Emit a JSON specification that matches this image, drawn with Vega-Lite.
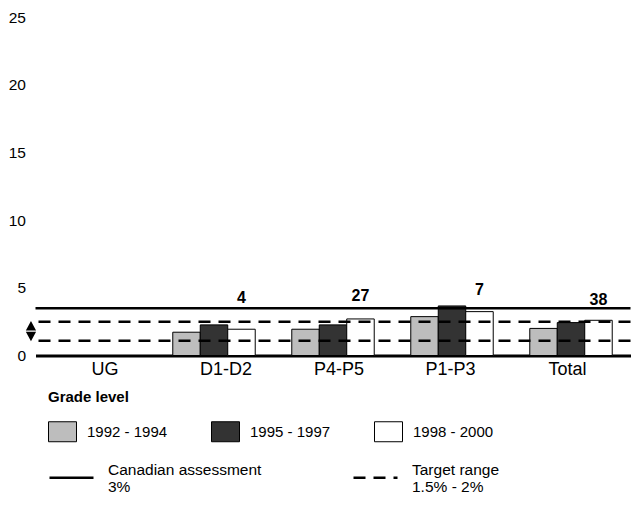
{
  "$schema": "https://vega.github.io/schema/vega-lite/v6.json",
  "width": 595,
  "height": 338.5,
  "autosize": "none",
  "padding": {"left": 35.5, "top": 17, "right": 13.5, "bottom": 149.5},
  "config": {"view": {"stroke": null}, "font": "Liberation Sans"},
  "datasets": {
    "bars": [
      {"grade": "D1-D2", "period": "1992 - 1994", "value": 1.72},
      {"grade": "D1-D2", "period": "1995 - 1997", "value": 2.26},
      {"grade": "D1-D2", "period": "1998 - 2000", "value": 1.94},
      {"grade": "P4-P5", "period": "1992 - 1994", "value": 1.94},
      {"grade": "P4-P5", "period": "1995 - 1997", "value": 2.26},
      {"grade": "P4-P5", "period": "1998 - 2000", "value": 2.7},
      {"grade": "P1-P3", "period": "1992 - 1994", "value": 2.87},
      {"grade": "P1-P3", "period": "1995 - 1997", "value": 3.66},
      {"grade": "P1-P3", "period": "1998 - 2000", "value": 3.24},
      {"grade": "Total", "period": "1992 - 1994", "value": 2.0},
      {"grade": "Total", "period": "1995 - 1997", "value": 2.43},
      {"grade": "Total", "period": "1998 - 2000", "value": 2.6}
    ],
    "rules": [
      {"type": "Canadian assessment|3%", "value": 3.49},
      {"type": "Target range|1.5% - 2%", "value": 2.5},
      {"type": "Target range|1.5% - 2%", "value": 1.09}
    ],
    "labels": [
      {"grade": "D1-D2", "period": "1998 - 2000", "n": "4", "ly": 4.25},
      {"grade": "P4-P5", "period": "1998 - 2000", "n": "27", "ly": 4.4},
      {"grade": "P1-P3", "period": "1998 - 2000", "n": "7", "ly": 4.84},
      {"grade": "Total", "period": "1998 - 2000", "n": "38", "ly": 4.07}
    ],
    "marker": [
      {"grade": "UG", "value": 1.8}
    ]
  },
  "layer": [
    {
      "data": {"name": "bars"},
      "mark": {"type": "bar", "stroke": "black", "strokeWidth": 1},
      "encoding": {
        "x": {
          "field": "grade", "type": "nominal", "sort": null,
          "scale": {"domain": ["UG", "D1-D2", "P4-P5", "P1-P3", "Total"], "paddingInner": 0.307, "paddingOuter": 0.1535},
          "axis": {
            "title": null, "domain": true, "domainColor": "black", "domainWidth": 3, "ticks": false,
            "labelFontSize": 18, "labelPadding": 5, "labelColor": "black", "labelAngle": 0,
            "labelOffset": {"expr": "datum.value == 'UG' ? 10 : datum.value == 'D1-D2' ? 12 : datum.value == 'P4-P5' ? 6 : datum.value == 'P1-P3' ? -1.5 : -3.5"}
          }
        },
        "xOffset": {
          "field": "period", "type": "nominal",
          "scale": {"domain": ["1992 - 1994", "1995 - 1997", "1998 - 2000"], "paddingInner": 0, "paddingOuter": 0}
        },
        "y": {
          "field": "value", "type": "quantitative",
          "scale": {"domain": [0, 25], "nice": false},
          "axis": {"title": null, "domain": false, "ticks": false, "grid": false, "labelPadding": 10, "labelFontSize": 15.5, "labelColor": "black", "values": [0, 5, 10, 15, 20, 25]}
        },
        "fill": {
          "field": "period", "type": "nominal",
          "scale": {"domain": ["1992 - 1994", "1995 - 1997", "1998 - 2000"], "range": ["#bdbdbd", "#333333", "#ffffff"]},
          "legend": {
            "title": "Grade level", "orient": "none", "legendX": 12.5, "legendY": 373,
            "direction": "horizontal", "columns": 3, "columnPadding": 41,
            "symbolType": "M-1,-0.714L1,-0.714L1,0.714L-1,0.714Z", "symbolSize": 784,
            "symbolStrokeColor": "black", "symbolStrokeWidth": 1, "symbolOpacity": 1,
            "labelFontSize": 15, "labelOffset": 10, "labelColor": "black",
            "titleFontSize": 15, "titleFontWeight": "bold", "titlePadding": 12, "titleColor": "black"
          }
        }
      }
    },
    {
      "data": {"name": "rules"},
      "mark": {"type": "rule", "strokeWidth": 2.5, "color": "black"},
      "encoding": {
        "y": {"field": "value", "type": "quantitative"},
        "strokeDash": {
          "field": "type", "type": "nominal",
          "scale": {"domain": ["Canadian assessment|3%", "Target range|1.5% - 2%"], "range": [[1, 0], [12, 8]]},
          "legend": {
            "title": null, "orient": "none", "legendX": 12.5, "legendY": 437,
            "direction": "horizontal", "columns": 2, "columnPadding": 86,
            "symbolType": "stroke", "symbolSize": 1936, "symbolStrokeWidth": 2.5, "symbolStrokeColor": "black",
            "labelExpr": "split(datum.label, '|')", "labelBaseline": "bottom", "labelLineHeight": 18,
            "labelFontSize": 15.5, "labelOffset": 13, "labelColor": "black"
          }
        }
      }
    },
    {
      "data": {"name": "labels"},
      "mark": {"type": "text", "fontWeight": "bold", "fontSize": 16, "color": "black"},
      "encoding": {
        "x": {"field": "grade", "type": "nominal"},
        "xOffset": {"field": "period", "type": "nominal"},
        "y": {"field": "ly", "type": "quantitative"},
        "text": {"field": "n"}
      }
    },
    {
      "data": {"name": "marker"},
      "mark": {"type": "point", "shape": "M-0.5,-0.06L0,-1L0.5,-0.06ZM-0.5,0.06L0,1L0.5,0.06Z", "size": 420, "filled": true, "color": "black", "opacity": 1, "xOffset": -22.8},
      "encoding": {
        "x": {"field": "grade", "type": "nominal", "bandPosition": 0},
        "y": {"field": "value", "type": "quantitative"}
      }
    }
  ]
}
